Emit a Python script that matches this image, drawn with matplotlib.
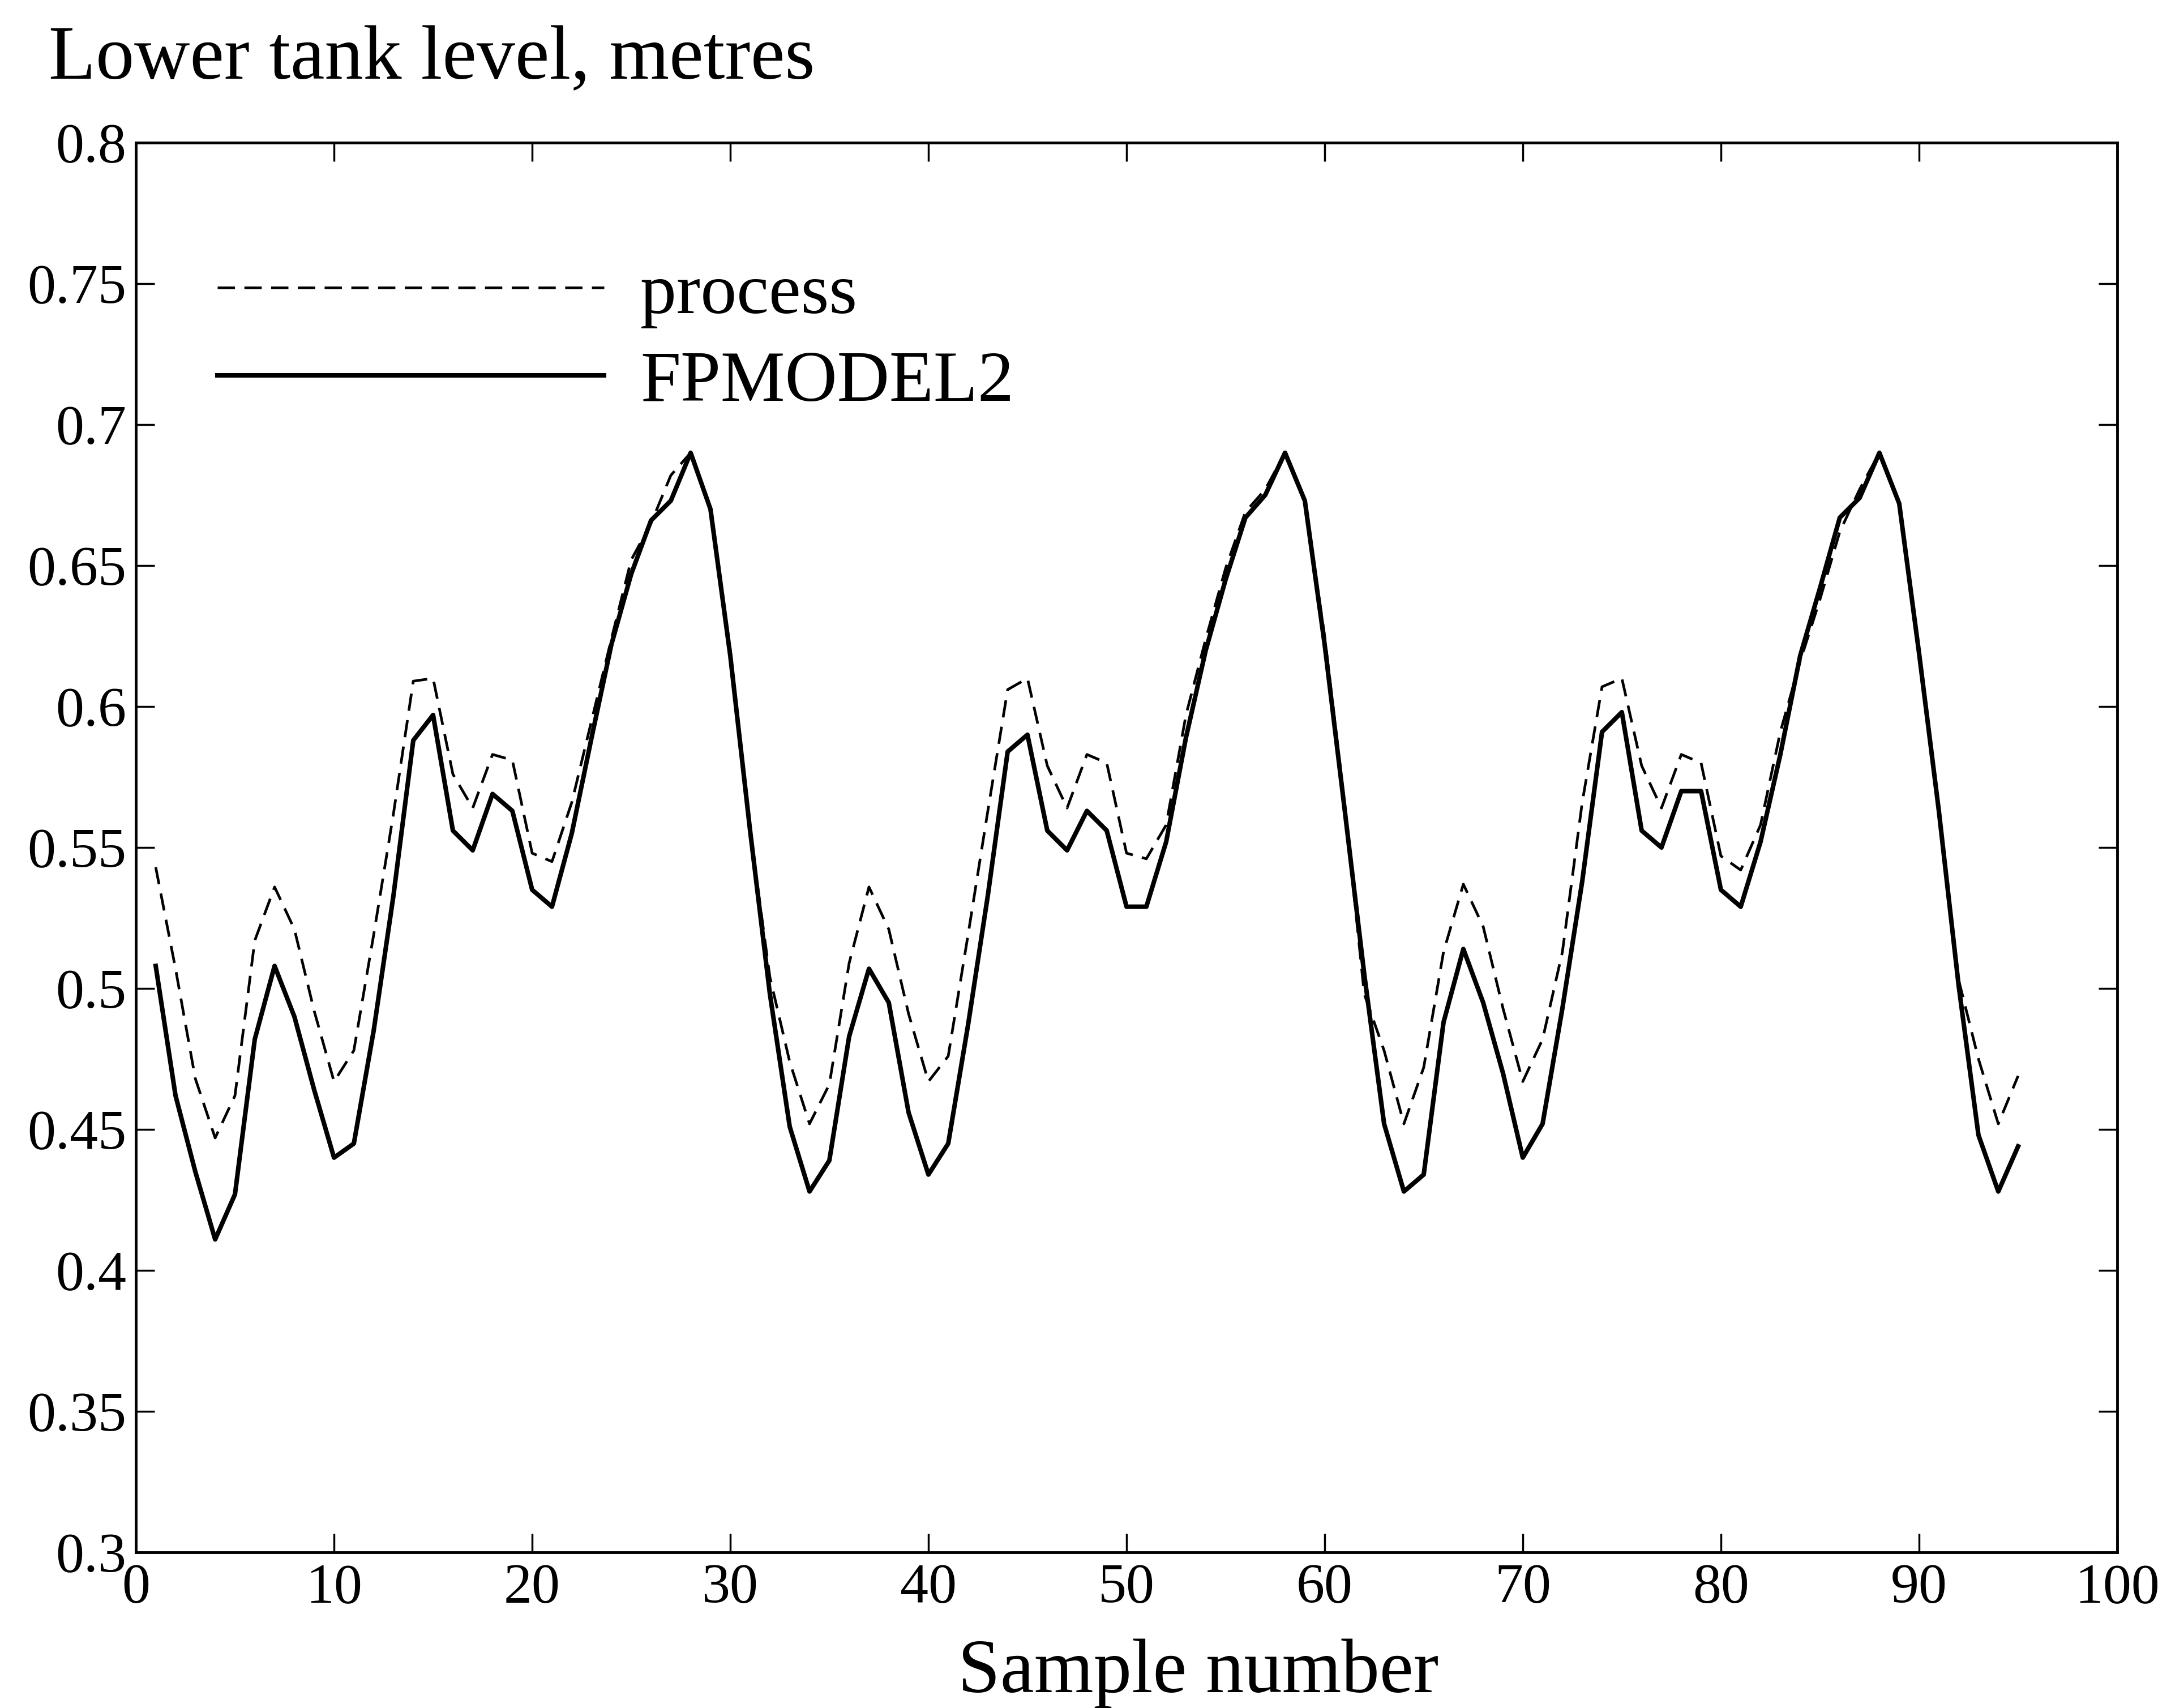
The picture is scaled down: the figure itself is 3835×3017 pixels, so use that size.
import numpy as np
from matplotlib import pyplot as plt

# sample numbers 1..95
samples = list(range(1, 96))

# process (dashed) level in metres
process = [0.543, 0.507, 0.468, 0.447, 0.462, 0.517, 0.536, 0.521, 0.492, 0.467,
           0.478, 0.519, 0.562, 0.609, 0.610, 0.576, 0.564, 0.583, 0.581, 0.548,
           0.545, 0.566, 0.595, 0.624, 0.652, 0.665, 0.682, 0.690, 0.670, 0.620,
           0.556, 0.504, 0.474, 0.452, 0.466, 0.509, 0.536, 0.521, 0.491, 0.467,
           0.476, 0.519, 0.563, 0.606, 0.610, 0.579, 0.564, 0.583, 0.580, 0.548,
           0.546, 0.558, 0.597, 0.624, 0.649, 0.669, 0.677, 0.690, 0.673, 0.625,
           0.566, 0.498, 0.478, 0.452, 0.472, 0.513, 0.537, 0.522, 0.493, 0.467,
           0.482, 0.513, 0.566, 0.607, 0.610, 0.579, 0.564, 0.583, 0.580, 0.547,
           0.542, 0.558, 0.591, 0.616, 0.638, 0.662, 0.677, 0.690, 0.672, 0.619,
           0.563, 0.503, 0.475, 0.452, 0.469]

# FPMODEL2 (solid)
fpmodel2 = [0.508, 0.462, 0.435, 0.411, 0.427, 0.482, 0.508, 0.490, 0.464, 0.440,
            0.445, 0.485, 0.533, 0.588, 0.597, 0.556, 0.549, 0.569, 0.563, 0.535,
            0.529, 0.555, 0.589, 0.622, 0.647, 0.666, 0.673, 0.690, 0.670, 0.618,
            0.556, 0.498, 0.451, 0.428, 0.439, 0.483, 0.507, 0.495, 0.456, 0.434,
            0.445, 0.487, 0.533, 0.584, 0.590, 0.556, 0.549, 0.563, 0.556, 0.529,
            0.529, 0.552, 0.589, 0.620, 0.645, 0.667, 0.675, 0.690, 0.673, 0.622,
            0.564, 0.505, 0.452, 0.428, 0.434, 0.488, 0.514, 0.495, 0.470, 0.440,
            0.452, 0.493, 0.538, 0.591, 0.598, 0.556, 0.550, 0.570, 0.570, 0.535,
            0.529, 0.552, 0.583, 0.618, 0.642, 0.667, 0.674, 0.690, 0.672, 0.619,
            0.563, 0.501, 0.448, 0.428, 0.444]

x_ticks = [0, 10, 20, 30, 40, 50, 60, 70, 80, 90, 100]
y_ticks = [0.3, 0.35, 0.4, 0.45, 0.5, 0.55, 0.6, 0.65, 0.7, 0.75, 0.8]

plt.rcParams['font.family'] = ['Liberation Serif', 'DejaVu Serif']
plt.rcParams['lines.scale_dashes'] = False

fig = plt.figure(figsize=(38.35, 30.17), dpi=100)
ax = fig.add_axes([0.0626, 0.0911, 0.9126, 0.8254])

ax.plot(samples, process, color='black', linewidth=3.4, linestyle=(0, (22, 12)), label='process')
ax.plot(samples, fpmodel2, color='black', linewidth=5.8, label='FPMODEL2')

ax.set_xlim(0, 100)
ax.set_ylim(0.3, 0.8)
ax.set_xticks(x_ticks)
ax.set_yticks(y_ticks)
ax.set_yticklabels([f'{v:g}' for v in y_ticks])

ax.tick_params(direction='in', length=24, width=2.5, top=True, right=True, labelsize=72)
ax.tick_params(axis='x', pad=14)
ax.tick_params(axis='y', pad=12)
for spine in ax.spines.values():
    spine.set_linewidth(3.5)

ax.legend(loc='upper left', bbox_to_anchor=(0.041, 0.915), frameon=False, fontsize=92,
          handlelength=5.35, handletextpad=0.5, labelspacing=0.3, borderpad=0, borderaxespad=0)

# axis titles sit outside the usual places in the original
fig.text(0.0224, 0.954, 'Lower tank level, metres', fontsize=98, va='baseline', ha='left')
fig.text(0.552, 0.0093, 'Sample number', fontsize=97, va='baseline', ha='center')

fig.savefig('out.png', dpi=100)
